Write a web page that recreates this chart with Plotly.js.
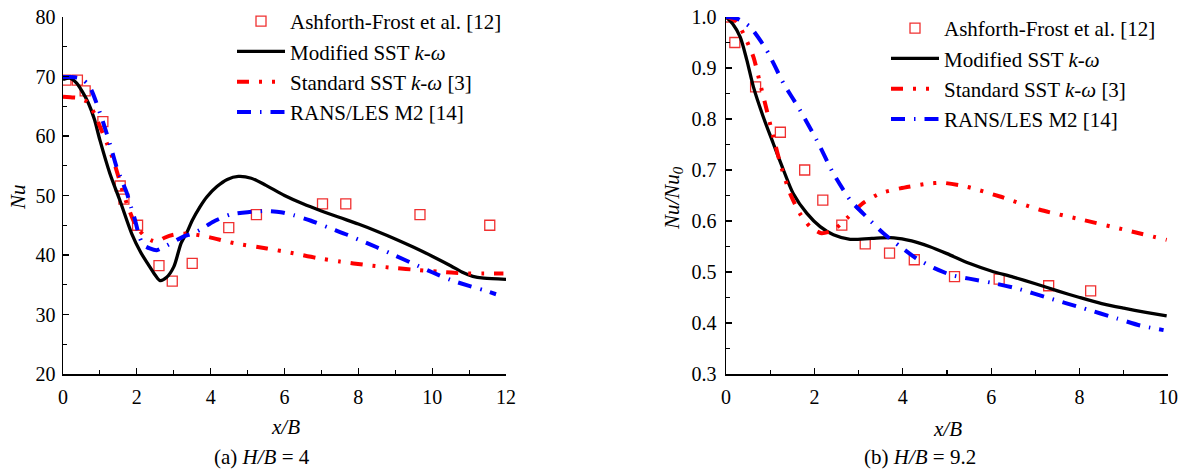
<!DOCTYPE html>
<html><head><meta charset="utf-8">
<script src="https://cdn.plot.ly/plotly-3.0.1.min.js"></script>
<style>html,body{margin:0;padding:0;background:#fff}#chart{width:1185px;height:472px}</style>
</head><body><div id="chart"></div>
<script>
// ---------- Panel (a) H/B = 4 ----------
const a_expX = [0.08,0.39,0.6,1.08,1.55,1.65,2.02,2.6,2.96,3.5,4.49,5.24,7.03,7.66,9.67,11.56];
const a_expY = [69.4,69.4,67.6,62.4,51.6,49.4,45.0,38.2,35.6,38.6,44.6,46.8,48.6,48.6,46.8,45.0];

const a_modX = [0,0.2,0.37,0.52,0.69,0.85,1.0,1.27,1.54,1.86,2.1,2.3,2.5,2.63,2.8,3.0,3.2,3.35,3.5,3.71,3.9,4.17,4.45,4.75,5.1,5.5,6.0,6.5,7.0,7.5,8.0,8.5,9.0,9.5,10.0,10.5,10.85,11.1,11.4,12.0];
const a_modY = [69.5,69.7,68.9,67.5,65.5,62.8,59.3,53.7,49.2,43.6,40.5,38.5,36.6,35.7,36.2,38.0,42.0,43.7,45.8,48.1,49.8,51.5,52.7,53.2,52.9,51.7,50.0,48.6,47.4,46.3,45.2,44.0,42.7,41.3,39.8,38.2,37.0,36.4,36.1,35.9];

const a_stdX = [0,0.2,0.4,0.64,0.85,1.0,1.2,1.36,1.5,1.63,1.78,1.9,2.05,2.22,2.38,2.54,2.75,2.99,3.35,3.89,4.62,5.52,6.24,6.87,7.5,8.23,9.0,9.58,10.2,10.85,11.4,11.93];
const a_stdY = [66.6,66.5,66.4,65.8,63.8,61.6,58.6,56.0,53.2,50.4,47.8,45.9,44.3,43.1,42.5,42.2,42.9,43.4,43.6,43.1,42.0,41.1,40.3,39.5,38.9,38.3,37.8,37.5,37.2,36.9,36.9,36.9];

const a_ransX = [0,0.2,0.39,0.55,0.69,0.8,0.91,1.05,1.18,1.32,1.45,1.6,1.73,1.85,1.95,2.05,2.17,2.35,2.54,2.75,2.99,3.26,3.5,3.71,4.07,4.53,5.0,5.52,5.9,6.24,6.7,7.24,7.7,8.0,8.5,9.0,9.5,10.0,10.5,11.0,11.39,11.73];
const a_ransY = [69.9,69.9,69.8,69.4,68.6,67.3,65.5,63.0,60.5,57.6,54.8,52.4,50.4,47.9,45.9,43.5,41.7,41.1,40.8,41.4,42.2,43.1,43.6,44.2,45.6,46.8,47.2,47.4,47.2,46.7,45.8,44.5,43.4,42.6,41.3,39.9,38.5,37.1,35.8,34.8,34.1,33.4];

// ---------- Panel (b) H/B = 9.2 ----------
const b_expX = [0.07,0.2,0.67,1.23,1.78,2.19,2.62,3.15,3.70,4.26,5.17,6.18,7.30,8.25];
const b_expY = [1.0,0.950,0.863,0.774,0.700,0.641,0.592,0.555,0.537,0.524,0.491,0.486,0.473,0.463];

const b_modX = [0,0.15,0.32,0.47,0.62,0.84,1.07,1.30,1.52,1.83,2.13,2.43,2.81,3.3,3.8,4.2,4.6,5.0,5.5,6.0,6.5,7.0,7.5,8.0,8.5,9.0,9.5,9.97];
const b_modY = [1.0,0.987,0.961,0.916,0.863,0.805,0.752,0.700,0.654,0.615,0.589,0.573,0.564,0.566,0.567,0.561,0.550,0.536,0.517,0.502,0.490,0.477,0.463,0.450,0.438,0.429,0.421,0.414];

const b_stdX = [0,0.1,0.24,0.39,0.62,0.77,0.92,1.07,1.25,1.45,1.67,1.90,2.16,2.43,2.73,3.1,3.48,3.94,4.54,4.9,5.45,6.2,7.1,8.08,9.06,9.97];
const b_stdY = [1.0,0.998,0.991,0.968,0.922,0.870,0.818,0.765,0.706,0.654,0.615,0.589,0.576,0.582,0.605,0.635,0.654,0.664,0.673,0.675,0.667,0.648,0.622,0.602,0.582,0.563];

const b_ransX = [0,0.25,0.54,0.92,1.30,1.67,2.05,2.43,2.81,3.18,3.56,3.94,4.3,4.7,5.1,5.5,6.0,6.57,7.33,8.08,8.84,9.37,9.9];
const b_ransY = [1.0,0.997,0.981,0.935,0.870,0.818,0.759,0.693,0.641,0.608,0.576,0.550,0.527,0.508,0.494,0.487,0.479,0.468,0.448,0.429,0.409,0.395,0.386];

const names = ['Ashforth-Frost et al. [12]','Modified SST <i>k-ω</i>','Standard SST <i>k-ω</i> [3]','RANS/LES M2 [14]'];

const RED='#ff0000', BLUE='#0000ff', BLACK='#000000';
const dashStd = '12px,10px,3px,10px,3px,10px';
const dashRans = '14px,9px,1.5px,9px';

function panel(xa, ya, lg, ex, ey, mx, my, sx, sy, rx, ry){
  return [
    {x:ex,y:ey,xaxis:xa,yaxis:ya,legend:lg,name:names[0],legendgroup:lg+'1',mode:'markers',type:'scatter',
     marker:{symbol:'square-open',size:10,color:'#f03030',line:{width:1.3}}},
    {x:mx,y:my,xaxis:xa,yaxis:ya,legend:lg,name:names[1],legendgroup:lg+'2',mode:'lines',type:'scatter',
     line:{color:BLACK,width:3.3,shape:'spline',smoothing:0.8}},
    {x:sx,y:sy,xaxis:xa,yaxis:ya,legend:lg,name:names[2],legendgroup:lg+'3',mode:'lines',type:'scatter',
     line:{color:RED,width:4,dash:dashStd,shape:'spline',smoothing:0.6}},
    {x:rx,y:ry,xaxis:xa,yaxis:ya,legend:lg,name:names[3],legendgroup:lg+'4',mode:'lines',type:'scatter',
     line:{color:BLUE,width:4,dash:dashRans,shape:'spline',smoothing:0.6}}
  ];
}

const data = [
  ...panel('x','y','legend',a_expX,a_expY,a_modX,a_modY,a_stdX,a_stdY,a_ransX,a_ransY),
  ...panel('x2','y2','legend2',b_expX,b_expY,b_modX,b_modY,b_stdX,b_stdY,b_ransX,b_ransY)
];

const W=1185,H=472;
const px=v=>v/W, py=v=>1-v/H;
const FONT='Liberation Serif, Times New Roman, serif';

function axis(extra){
  return Object.assign({
    showgrid:false, zeroline:false, showline:true, linecolor:'#000', linewidth:1.5,
    ticks:'inside', ticklen:6, tickwidth:1.3, tickcolor:'#000',
    tickfont:{family:FONT,size:20,color:'#000'}, fixedrange:true
  }, extra);
}
const minorT = (d)=>({ticks:'inside',ticklen:4,tickwidth:1.1,tickcolor:'#000',dtick:d,tick0:0,showgrid:false});

const legendBase = {
  font:{family:FONT,size:21,color:'#000'}, bgcolor:'rgba(0,0,0,0)', borderwidth:0,
  xanchor:'left', yanchor:'top', itemwidth:48, tracegroupgap:0, traceorder:'normal', itemclick:false
};

const ann = (text,x,y,extra)=>Object.assign({text, xref:'paper', yref:'paper', x:px(x), y:py(y), xanchor:'center', yanchor:'middle', showarrow:false, font:{family:FONT,size:21,color:'#000'}}, extra||{});

const layout = {
  width:W, height:H, margin:{l:0,r:0,t:0,b:0}, paper_bgcolor:'#fff', plot_bgcolor:'#fff',
  font:{family:FONT,size:20,color:'#000'}, showlegend:true,
  xaxis: axis({domain:[px(63),px(506)], range:[0,12], tickvals:[0,2,4,6,8,10,12], minor:minorT(1), anchor:'y', ticklabelstandoff:4}),
  yaxis: axis({domain:[1-374/H,1-17/H], range:[20,80], tickvals:[20,30,40,50,60,70,80], minor:minorT(5), anchor:'x', ticklabelstandoff:2}),
  xaxis2: axis({domain:[px(726),px(1168)], range:[0,10], tickvals:[0,2,4,6,8,10], minor:minorT(1), anchor:'y2', ticklabelstandoff:4}),
  yaxis2: axis({domain:[1-374/H,1-17/H], range:[0.3,1.0], tickvals:[0.3,0.4,0.5,0.6,0.7,0.8,0.9,1.0], tickformat:'.1f', minor:minorT(0.05), anchor:'x2', ticklabelstandoff:4}),
  legend: Object.assign({x:px(232), y:py(1)}, legendBase),
  legend2: Object.assign({x:px(886), y:py(8)}, legendBase),
  annotations:[
    ann('<i>x/B</i>',285,427),
    ann('<i>x/B</i>',947,429),
    ann('(a) <i>H/B</i> = 4',262,457),
    ann('(b) <i>H/B</i> = 9.2',920,457),
    ann('<i>Nu</i>',18,197,{textangle:-90}),
    ann('<i>Nu/Nu<sub>0</sub></i>',673,198,{textangle:-90})
  ]
};

Plotly.newPlot('chart', data, layout, {displayModeBar:false, staticPlot:true});
</script></body></html>
